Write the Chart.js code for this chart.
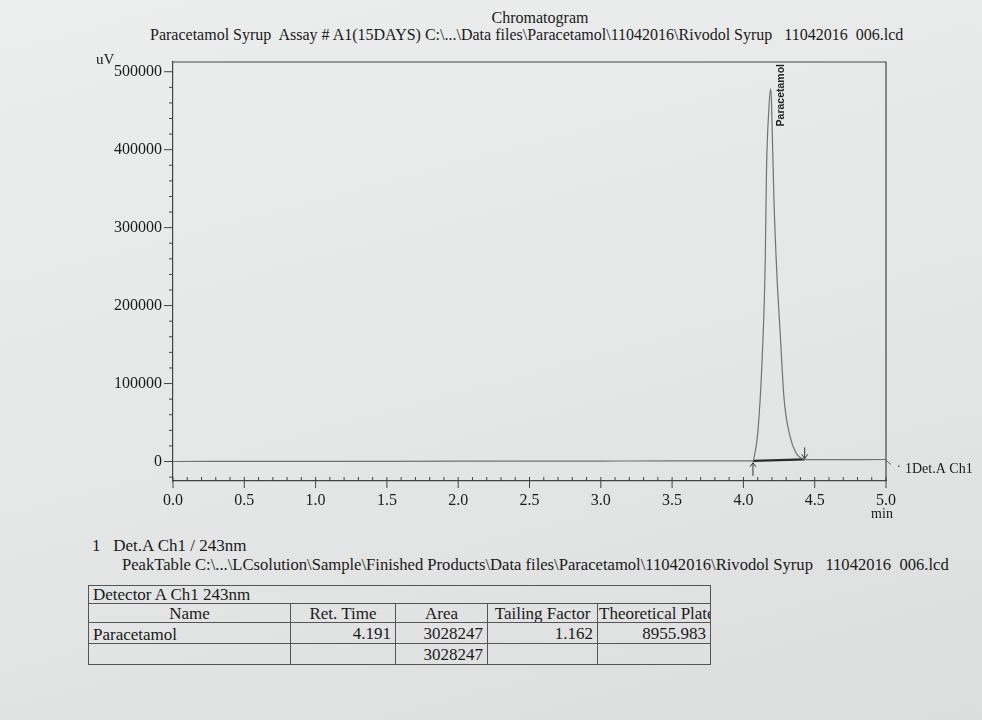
<!DOCTYPE html>
<html>
<head>
<meta charset="utf-8">
<title>Chromatogram</title>
<script src="https://cdn.jsdelivr.net/npm/chart.js@4.4.1/dist/chart.umd.min.js"></script>
<style>
  html, body { margin: 0; padding: 0; }
  body {
    position: relative; width: 982px; height: 720px; overflow: hidden;
    background: linear-gradient(165deg, #eceeed 0%, #e5e7e6 55%, #dcdedd 100%);
    font-family: "Liberation Serif", "DejaVu Serif", serif; color: #1a1a1a;
  }
  #chromatogram { position: absolute; left: 0; top: 0; }
  .txt { position: absolute; white-space: pre; line-height: 1; }
  #peakTable { position: absolute; left: 88px; top: 585px; width: 622px; border-collapse: collapse; font-size: 17px; table-layout: fixed; }
  #peakTable td { border: 1px solid #555; padding: 0 4px; line-height: 1; overflow: hidden; white-space: nowrap; box-sizing: border-box; }
</style>
</head>
<body>
<div class="txt" style="left:440px; top:10px; width:200px; text-align:center; font-size:16px;">Chromatogram</div>
<div class="txt" style="left:150px; top:27px; font-size:16px;">Paracetamol Syrup  Assay # A1(15DAYS) C:\...\Data files\Paracetamol\11042016\Rivodol Syrup   11042016  006.lcd</div>

<canvas id="chromatogram" width="982" height="530"></canvas>

<div class="txt" style="left:92px; top:537px; font-size:17px;">1   Det.A Ch1 / 243nm</div>
<div class="txt" style="left:122px; top:557px; font-size:16.6px;">PeakTable C:\...\LCsolution\Sample\Finished Products\Data files\Paracetamol\11042016\Rivodol Syrup   11042016  006.lcd</div>

<table id="peakTable">
  <colgroup><col style="width:202px"><col style="width:105px"><col style="width:92px"><col style="width:110px"><col style="width:113px"></colgroup>
  <tr style="height:18px"><td colspan="5">Detector A Ch1 243nm</td></tr>
  <tr style="height:19px"><td style="text-align:center; vertical-align:bottom">Name</td><td style="text-align:center">Ret. Time</td><td style="text-align:center">Area</td><td style="text-align:center">Tailing Factor</td><td style="padding:0 0 0 1px">Theoretical Plates</td></tr>
  <tr style="height:21px"><td style="vertical-align:bottom">Paracetamol</td><td style="text-align:right">4.191</td><td style="text-align:right">3028247</td><td style="text-align:right">1.162</td><td style="text-align:right">8955.983</td></tr>
  <tr style="height:21px"><td></td><td></td><td style="text-align:right">3028247</td><td></td><td></td></tr>
</table>

<script>
// Detector A Ch1 243nm trace (min, uV)
const retentionTime = [0.00, 0.50, 1.00, 1.50, 2.00, 2.50, 3.00, 3.50, 4.00, 4.067,
  4.083, 4.101, 4.130, 4.153, 4.162, 4.179, 4.191, 4.197, 4.203, 4.215,
  4.234, 4.257, 4.285, 4.326, 4.370, 4.404, 4.430, 4.500, 5.00];
const signalUv = [0, 100, 200, 300, 400, 500, 600, 700, 800, 900,
  13000, 37000, 125000, 256000, 374000, 453000, 478000, 462000, 417000, 331000,
  243000, 168000, 81000, 33000, 10500, 4500, 2800, 2400, 2600];

// integration baseline (start / end of the Paracetamol peak)
const peakStart = [4.067, 900];
const peakEnd = [4.430, 2800];
const peakName = 'Paracetamol';
const peakApex = [4.191, 478000];

const xTickValues = [0, 0.5, 1.0, 1.5, 2.0, 2.5, 3.0, 3.5, 4.0, 4.5, 5.0];
const xTickLabels = ['0.0', '0.5', '1.0', '1.5', '2.0', '2.5', '3.0', '3.5', '4.0', '4.5', '5.0'];
const yTickValues = [0, 100000, 200000, 300000, 400000, 500000];
const yTickLabels = ['0', '100000', '200000', '300000', '400000', '500000'];

const serif = '"Liberation Serif", "DejaVu Serif", serif';
const inkColor = '#1a1a1a';
const axisColor = '#444';

// box, minor ticks, peak marks and the loose labels of the printout
const framePlugin = {
  id: 'frame',
  afterDraw(chart) {
    const { ctx, chartArea: a, scales: { x, y } } = chart;
    ctx.save();
    ctx.strokeStyle = axisColor;
    ctx.lineWidth = 1.2;
    ctx.beginPath();
    ctx.moveTo(a.left, a.top);
    ctx.lineTo(a.right, a.top);
    ctx.lineTo(a.right, a.bottom);
    ctx.stroke();

    // x ticks: every 0.1 min upward, majors also below
    ctx.lineWidth = 1;
    for (let i = 0; i <= 50; i++) {
      const px = x.getPixelForValue(i / 10);
      const major = i % 5 === 0;
      ctx.beginPath();
      ctx.moveTo(px, a.bottom - 4);
      ctx.lineTo(px, a.bottom + (major ? 7 : 0));
      ctx.stroke();
    }
    // y ticks: every 20000 to the left, majors longer
    for (let i = -1; i <= 25; i++) {
      const py = y.getPixelForValue(i * 20000);
      const major = i % 5 === 0;
      ctx.beginPath();
      ctx.moveTo(a.left - (major ? 9 : 4), py);
      ctx.lineTo(a.left, py);
      ctx.stroke();
    }

    // integration arrows
    const sx = x.getPixelForValue(peakStart[0]), sy = y.getPixelForValue(peakStart[1]);
    const ex = x.getPixelForValue(peakEnd[0]), ey = y.getPixelForValue(peakEnd[1]);
    ctx.strokeStyle = '#333';
    ctx.beginPath();
    ctx.moveTo(sx, sy + 15); ctx.lineTo(sx, sy + 2);
    ctx.moveTo(sx - 3, sy + 6); ctx.lineTo(sx, sy + 2); ctx.lineTo(sx + 3, sy + 6);
    ctx.moveTo(ex, ey - 12); ctx.lineTo(ex, ey - 1);
    ctx.moveTo(ex - 3, ey - 5); ctx.lineTo(ex, ey - 1); ctx.lineTo(ex + 3, ey - 5);
    ctx.stroke();

    // channel end hook
    const lastY = y.getPixelForValue(signalUv[signalUv.length - 1]);
    ctx.strokeStyle = '#666';
    ctx.beginPath();
    ctx.moveTo(a.right - 1, lastY);
    ctx.lineTo(a.right + 5, lastY + 5);
    ctx.stroke();
    ctx.fillStyle = '#555';
    ctx.fillRect(a.right + 12, lastY + 6, 1.5, 1.5);

    ctx.fillStyle = inkColor;
    ctx.textBaseline = 'middle';
    ctx.font = '14px ' + serif;
    ctx.textAlign = 'left';
    ctx.fillText('1Det.A Ch1', a.right + 19, lastY + 10);
    ctx.font = '15px ' + serif;
    ctx.fillText('uV', 96, a.top - 2);
    ctx.font = '14px ' + serif;
    ctx.textAlign = 'center';
    ctx.fillText('min', x.getPixelForValue(5.0) - 4, a.bottom + 33);

    // peak name, vertical
    ctx.save();
    ctx.translate(x.getPixelForValue(peakApex[0]) + 10, a.top + 2);
    ctx.rotate(-Math.PI / 2);
    ctx.font = 'bold 10.5px "Liberation Sans", Arial, sans-serif';
    ctx.textAlign = 'right';
    ctx.fillStyle = '#222';
    ctx.fillText(peakName, 0, 0);
    ctx.restore();
    ctx.restore();
  }
};

new Chart(document.getElementById('chromatogram'), {
  type: 'line',
  data: {
    datasets: [
      {
        label: 'Det.A Ch1',
        data: retentionTime.map((t, i) => ({ x: t, y: signalUv[i] })),
        borderColor: '#707273',
        borderWidth: 1.2,
        pointRadius: 0,
        cubicInterpolationMode: 'monotone',
        fill: false
      },
      {
        label: 'Baseline',
        data: [{ x: peakStart[0], y: peakStart[1] }, { x: peakEnd[0], y: peakEnd[1] }],
        borderColor: '#2a2a2a',
        borderWidth: 2.2,
        pointRadius: 0,
        fill: false
      }
    ]
  },
  options: {
    responsive: false,
    animation: false,
    layout: { padding: { top: 62, right: 96, bottom: 0, left: 0 } },
    plugins: { legend: { display: false }, tooltip: { enabled: false } },
    scales: {
      x: {
        type: 'linear', min: 0, max: 5,
        afterBuildTicks: s => { s.ticks = xTickValues.map(v => ({ value: v })); },
        afterFit: s => { s.height = 49; },
        ticks: {
          callback: (v, i) => xTickLabels[i],
          font: { family: serif, size: 16 }, color: inkColor,
          padding: 10, maxRotation: 0, autoSkip: false
        },
        grid: { display: false, drawTicks: false },
        border: { display: true, color: axisColor, width: 1.2 }
      },
      y: {
        type: 'linear', min: -25000, max: 512500,
        afterBuildTicks: s => { s.ticks = yTickValues.map(v => ({ value: v })); },
        afterFit: s => { s.width = 173; },
        ticks: {
          callback: (v, i) => yTickLabels[i],
          font: { family: serif, size: 16 }, color: inkColor,
          padding: 11, autoSkip: false
        },
        grid: { display: false, drawTicks: false },
        border: { display: true, color: axisColor, width: 1.2 }
      }
    }
  },
  plugins: [framePlugin]
});
</script>
</body>
</html>
